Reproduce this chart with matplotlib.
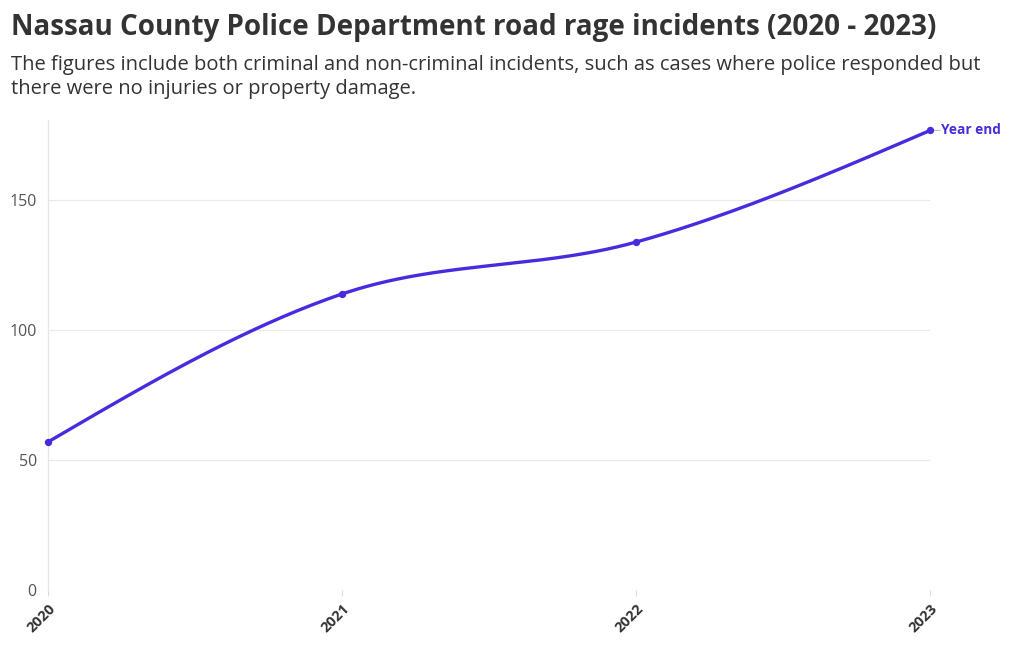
import numpy as np
import matplotlib
matplotlib.use("Agg")
import matplotlib.pyplot as plt

plt.rcParams['font.family'] = ['Open Sans', 'DejaVu Sans']

years = [2020, 2021, 2022, 2023]
incidents = [57, 114, 134, 177]
yticks = [0, 50, 100, 150]

LINE = '#4a2adf'
TITLE = 'Nassau County Police Department road rage incidents (2020 - 2023)'
SUBTITLE = ('The figures include both criminal and non-criminal incidents, such as cases where police responded but\n'
            'there were no injuries or property damage.')


def monotone_curve(x, y, n=60):
    # d3 curveMonotoneX style smoothing between the data points
    x = np.asarray(x, float)
    y = np.asarray(y, float)
    h = np.diff(x)
    s = np.diff(y) / h
    m = np.zeros_like(y)
    for i in range(1, len(x) - 1):
        if s[i - 1] * s[i] <= 0:
            m[i] = 0
        else:
            p = (s[i - 1] * h[i] + s[i] * h[i - 1]) / (h[i - 1] + h[i])
            m[i] = (np.sign(s[i - 1]) + np.sign(s[i])) * min(abs(s[i - 1]), abs(s[i]), 0.5 * abs(p))
    m[0] = (3 * s[0] - m[1]) / 2
    m[-1] = (3 * s[-1] - m[-2]) / 2
    xs, ys = [], []
    for i in range(len(x) - 1):
        t = np.linspace(0, 1, n)
        h00 = 2 * t**3 - 3 * t**2 + 1
        h10 = t**3 - 2 * t**2 + t
        h01 = -2 * t**3 + 3 * t**2
        h11 = t**3 - t**2
        xs.append(x[i] + t * h[i])
        ys.append(h00 * y[i] + h10 * h[i] * m[i] + h01 * y[i + 1] + h11 * h[i] * m[i + 1])
    return np.concatenate(xs), np.concatenate(ys)


fig = plt.figure(figsize=(10.2, 6.5), dpi=100)
ax = fig.add_axes([0.047, 0.0923, 0.865, 0.7231])

cx, cy = monotone_curve(years, incidents)
ax.plot(cx, cy, color=LINE, lw=2.4, solid_capstyle='round', zorder=3, clip_on=False)
ax.scatter(years, incidents, s=28, color=LINE, zorder=4, linewidths=0, clip_on=False)

ax.set_xlim(2020, 2023)
ax.set_ylim(0, 181)
ax.set_yticks(yticks)
ax.set_xticks(years)
ax.set_xticklabels([str(y) for y in years], rotation=45, ha='right', va='top',
                   rotation_mode='anchor', fontsize=10.5, fontweight='bold', color='#333333')
ax.tick_params(axis='x', length=4, color='#dddddd', pad=4)
ax.tick_params(axis='y', length=0, pad=8, labelsize=11.5, labelcolor='#555555')
ax.yaxis.grid(True, color='#eaeaea', lw=0.9)
ax.set_axisbelow(True)
for side in ['top', 'right', 'bottom']:
    ax.spines[side].set_visible(False)
ax.spines['left'].set_color('#e6e6e6')
ax.spines['left'].set_linewidth(0.9)

# direct label with a short grey leader
ax.annotate('', xy=(years[-1], incidents[-1]), xytext=(7, 0), textcoords='offset points',
            arrowprops=dict(arrowstyle='-', color='#bbbbbb', lw=0.8, shrinkA=0, shrinkB=3),
            annotation_clip=False)
ax.annotate('Year end', xy=(years[-1], incidents[-1]), xytext=(8, 0),
            textcoords='offset points', va='center', ha='left',
            fontsize=9.8, fontweight='bold', color=LINE, annotation_clip=False)

fig.text(0.011, 0.958, TITLE, fontsize=20, fontweight='bold', color='#333333', va='center')
fig.text(0.011, 0.882, SUBTITLE, fontsize=14.5, color='#333333', va='center', linespacing=1.25)

fig.savefig('out.png', dpi=100)
